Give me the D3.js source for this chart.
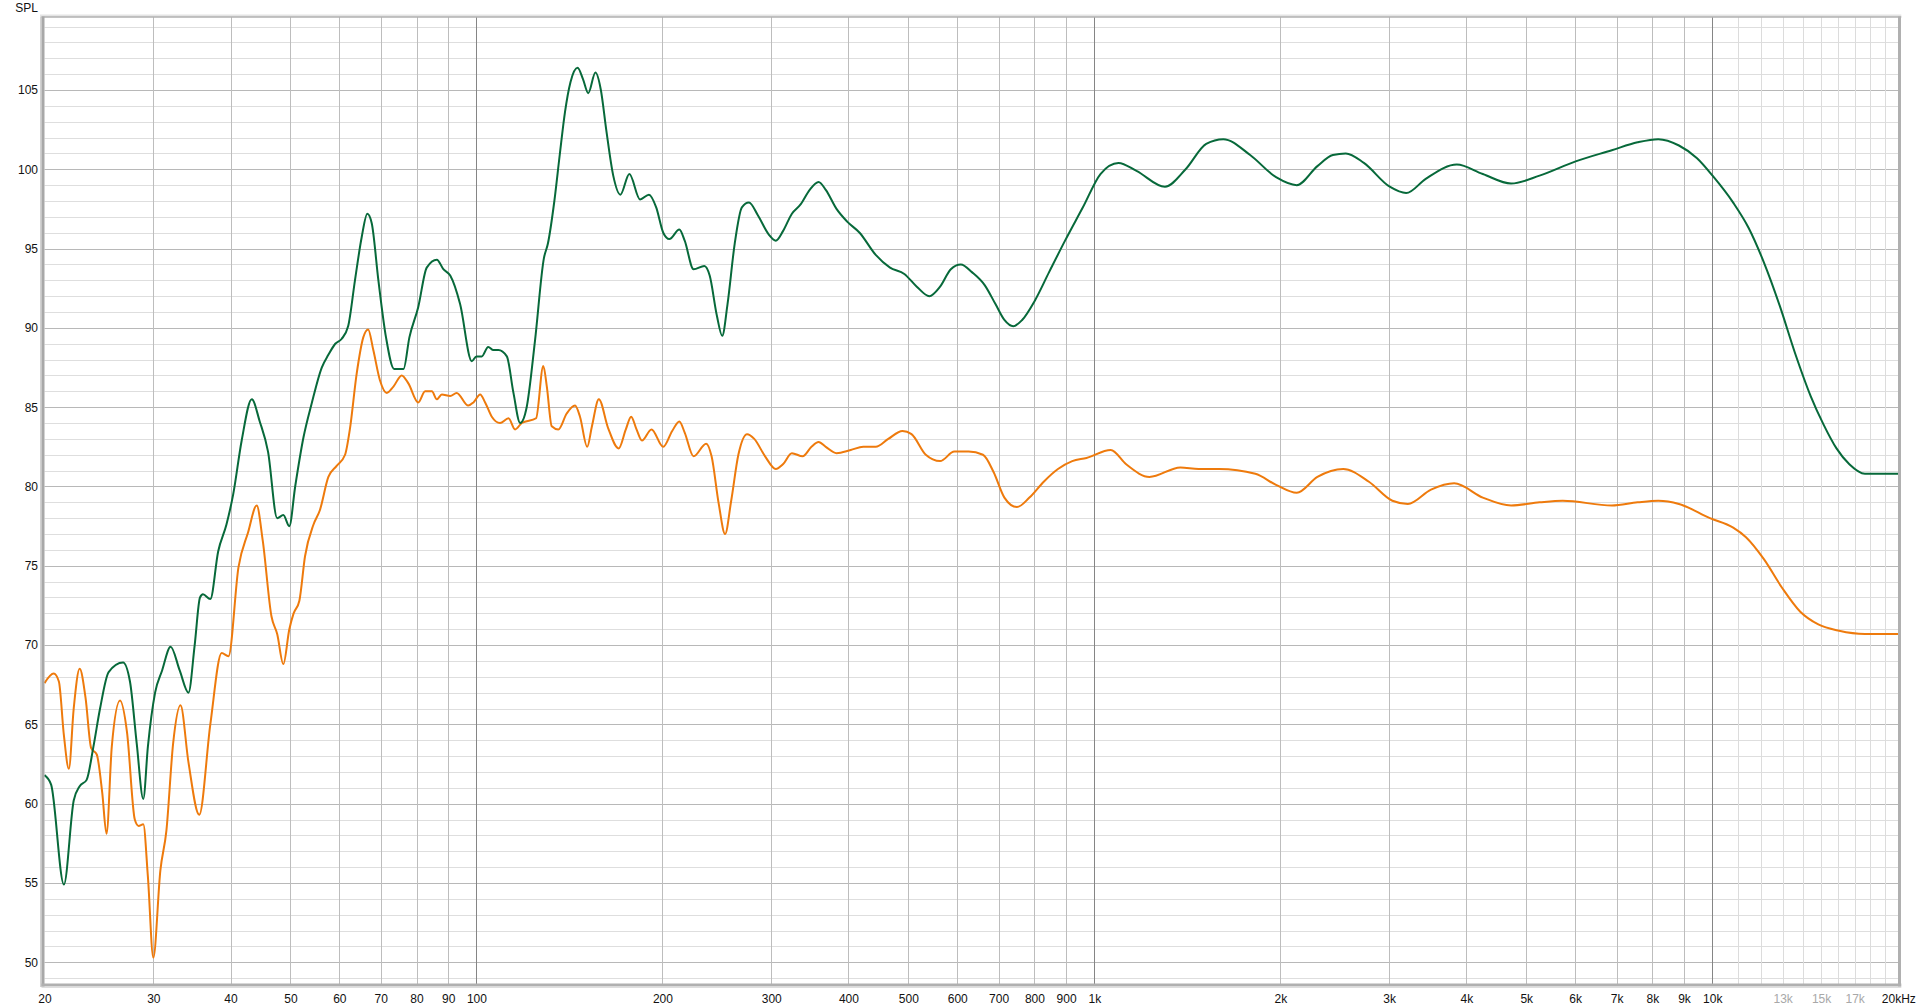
<!DOCTYPE html>
<html><head><meta charset="utf-8">
<script src="https://cdn.jsdelivr.net/npm/d3@7"></script>
<style>
html,body{margin:0;padding:0;background:#fff;}
svg{display:block;}
text{font-family:"Liberation Sans",Arial,sans-serif;font-size:12px;}
</style></head>
<body>
<svg id="chart" width="1920" height="1008"></svg>
<script>
// ---------- DATA ----------
const yTicks = [50,55,60,65,70,75,80,85,90,95,100,105];
const xTickValues = [20,30,40,50,60,70,80,90,100,200,300,400,500,600,700,800,900,1000,2000,3000,4000,5000,6000,7000,8000,9000,10000,13000,15000,17000,20000];
const xTickLabels = ["20","30","40","50","60","70","80","90","100","200","300","400","500","600","700","800","900","1k","2k","3k","4k","5k","6k","7k","8k","9k","10k","13k","15k","17k","20kHz"];
const fadedLabels = ["13k","15k","17k"];
const decadeLines = [100,1000,10000];
const minorLines = [30,40,50,60,70,80,90,200,300,400,500,600,700,800,900,2000,3000,4000,5000,6000,7000,8000,9000];
const highLines = [11000,12000,13000,14000,15000,16000,17000,18000,19000];

// green series: [frequency Hz, SPL dB]
const greenSeries = [
[20,61.8],[20.5,61.2],[21.5,54.9],[22.3,60.2],[22.8,61.1],[23.4,61.5],[24.0,63.6],[24.6,66.0],[25.4,68.3],[26.8,68.9],[27.5,67.7],[28.2,63.8],[28.9,60.3],[29.4,63.6],[30.2,67.0],[31.0,68.4],[32.0,69.9],[33.1,68.4],[34.2,67.0],[35.0,70.0],[35.7,73.0],[36.1,73.2],[37.1,72.9],[38.2,75.9],[39.4,77.6],[40.4,79.5],[41.7,82.9],[43.3,85.5],[44.6,84.1],[46.0,82.2],[47.6,78.0],
[48.7,78.2],[49.8,77.5],[50.9,80.0],[52.5,83.1],[54.1,85.2],[56.2,87.5],[57.6,88.3],[59.1,89.0],[60.5,89.3],[62.0,90.1],[63.6,93.0],[65.2,95.7],[66.6,97.2],[67.7,96.6],[69.4,93.0],[71.4,89.4],[73.6,87.4],[76.2,87.4],[77.9,89.4],[80.5,91.3],[83.1,93.8],[86.3,94.3],[88.4,93.7],[90.7,93.3],[94.1,91.5],[98.3,87.9],[100,88.2],[102.0,88.2],[104.5,88.8],[106.5,88.6],[108.5,88.6],[112.0,88.2],[114.8,85.9],[117.7,84.0],[120.6,85.0],[124.4,89.2],[128.6,94.4],[130.5,95.3],
[133.7,98.0],[136.4,100.9],[139.1,103.6],[142.0,105.5],[145.8,106.4],[148.7,105.7],[151.7,104.8],[155.8,106.1],[159.0,105.0],[162.2,102.5],[166.5,99.6],[171.0,98.4],[176.8,99.7],[184.0,98.1],[190.2,98.4],[195.4,97.6],[200.6,96.0],[205.2,95.6],[213.0,96.2],[217.3,95.5],[224.6,93.7],[233.8,93.9],[238.5,93.3],[244.9,90.8],[249.9,89.5],[254.9,91.5],[261.8,95.3],[268.9,97.6],[276.1,97.9],[285.4,97.1],[297.1,95.9],[305.1,95.5],[313.4,96.1],[324.0,97.2],[334.9,97.8],[346.2,98.7],[357.9,99.2],[367.6,98.7],[382.6,97.5],[398.1,96.7],[417.0,96.0],[442.8,94.6],[467.0,93.8],[492.6,93.4],[516.0,92.6],[540.6,92.0],[562.8,92.6],[585.8,93.7],[608.0,94.0],[634.4,93.5],[664.5,92.7],[691.8,91.5],[715.2,90.5],[739.3,90.1],[764.1,90.5],[800.6,91.7],[844.4,93.5],[896.6,95.5],[958.2,97.6],
[1023,99.7],[1094,100.4],[1170,99.9],[1301,98.9],[1405,100.0],[1517,101.6],[1617,101.9],[1787,100.9],[1968,99.5],[2126,99.0],[2296,100.2],[2432,100.9],[2552,101.0],[2730,100.4],[3006,98.9],[3196,98.5],[3438,99.4],[3860,100.3],[4252,99.7],[4726,99.1],[5254,99.6],[6010,100.5],[6878,101.2],[7570,101.7],[8178,101.9],[8832,101.5],[9448,100.7],[10010,99.6],[10810,97.9],[11452,96.3],[12128,94.1],[12856,91.4],[13614,88.4],[14428,85.7],[15140,83.9],[15886,82.4],[16666,81.4],[17660,80.8],[20000,80.8]
];

// orange series: [frequency Hz, SPL dB]
const orangeSeries = [
[20,67.6],[20.7,68.2],[21.1,67.7],[21.5,64.3],[21.9,62.2],[22.3,66.0],[22.8,68.5],[23.3,66.7],[23.8,63.5],[24.3,63.1],[24.8,60.7],[25.2,58.1],[25.7,63.6],[26.5,66.5],[27.2,64.5],[28.0,59.0],[28.4,58.6],[28.9,58.7],[29.4,55.4],[30.0,50.3],[30.8,55.8],[31.5,58.3],[32.3,63.8],[33.2,66.2],[34.2,62.6],[35.6,59.3],[37.1,65.0],[38.7,69.5],[39.7,69.3],[41.2,74.9],[42.7,77.1],[44.1,78.8],[45.1,76.6],[46.6,71.8],[47.6,70.7],[48.7,68.8],
[49.8,71.0],[50.6,72.0],[51.7,72.8],[52.8,75.6],[54.5,77.6],[55.8,78.5],[57.6,80.6],[59.4,81.3],[61.3,82.0],[62.4,83.6],[64.0,87.1],[65.6,89.4],[66.8,89.9],[68.1,88.6],[69.8,86.7],[71.6,85.9],[73.4,86.3],[75.7,87.0],[77.6,86.5],[80.5,85.3],[82.6,86.0],[84.7,86.0],[86.3,85.5],[87.9,85.8],[90.7,85.7],[92.9,85.9],[97.0,85.1],[98.9,85.3],[101.4,85.8],[103.3,85.3],[105.9,84.4],[109.2,84.0],[112.7,84.3],[115.5,83.6],[118.4,84.0],[124.9,84.3],[128.3,87.6],[130.0,86.3],[132.4,83.8],[135.7,83.6],[140.0,84.6],[144.4,85.1],[147.1,84.4],
[151.1,82.5],[153.8,83.8],[157.8,85.5],[163.3,83.7],[169.9,82.4],[174.5,83.6],[178.0,84.4],[181.6,83.6],[185.3,82.9],[192.0,83.6],[200.6,82.5],[207.4,83.5],[213.0,84.1],[217.3,83.4],[224.6,81.9],[235.4,82.7],[240.2,81.9],[246.7,78.9],[252.6,77.0],[258.4,79.1],[265.4,82.0],[274.2,83.3],[281.6,83.0],[293.2,81.9],[305.1,81.1],[313.4,81.4],[324.0,82.1],[337.2,81.9],[348.5,82.5],[357.9,82.8],[367.6,82.5],[382.6,82.1],[403.4,82.3],[422.7,82.5],[442.8,82.5],[464.0,83.0],[489.2,83.5],[506.0,83.3],[533.6,82.0],[562.8,81.6],[593.6,82.2],[625.9,82.2],[660.3,82.0],[687.2,80.9],[715.2,79.3],[749.4,78.7],[785.1,79.3],[828.1,80.3],[873.2,81.1],[920.8,81.6],[971.2,81.8],
[1063,82.3],[1126,81.4],[1228,80.6],[1378,81.2],[1475,81.1],[1592,81.1],[1822,80.8],[1968,80.1],[2126,79.6],[2296,80.6],[2528,81.1],[2782,80.3],[3036,79.1],[3216,78.9],[3506,79.8],[3822,80.2],[4252,79.3],[4726,78.8],[5254,79.0],[5728,79.1],[6878,78.8],[7570,79.0],[8178,79.1],[8832,78.9],[9912,78.0],[10810,77.4],[11338,76.8],[12128,75.4],[12976,73.6],[13880,72.1],[14846,71.3],[16042,70.9],[17660,70.7],[20000,70.7]
];

// ---------- LAYOUT ----------
const L = 44.5, R = 1898.3, T = 17.5, B = 984;
const svg = d3.select("#chart");
const x = d3.scaleLog().domain([20,20000]).range([L,R]);
const y = d3.scaleLinear().domain([48.63,109.57]).range([B,T]);
const px = v => Math.round(v) + 0.5;

// background
svg.append("rect").attr("x",L).attr("y",T).attr("width",R-L).attr("height",B-T).attr("fill","#fff");

// horizontal grid
const hLines = d3.range(49,110);
svg.append("g").selectAll("line").data(hLines).join("line")
  .attr("x1",L).attr("x2",R)
  .attr("y1",d=>px(y(d))).attr("y2",d=>px(y(d)))
  .attr("stroke",d=>d%5===0?"#b8b8b8":"#dedede").attr("stroke-width",1);

// vertical grid
const vg = svg.append("g");
vg.selectAll("line.hi").data(highLines).join("line").attr("class","hi")
  .attr("x1",d=>px(x(d))).attr("x2",d=>px(x(d))).attr("y1",T).attr("y2",B)
  .attr("stroke","#dcdcdc");
vg.selectAll("line.mi").data(minorLines).join("line").attr("class","mi")
  .attr("x1",d=>px(x(d))).attr("x2",d=>px(x(d))).attr("y1",T).attr("y2",B)
  .attr("stroke","#bdbdbd");
vg.selectAll("line.de").data(decadeLines).join("line").attr("class","de")
  .attr("x1",d=>px(x(d))).attr("x2",d=>px(x(d))).attr("y1",T).attr("y2",B)
  .attr("stroke","#858585");

// curves
const line = d3.line().x(d=>x(d[0])).y(d=>y(d[1])).curve(d3.curveMonotoneX);
const plot = svg.append("g");
plot.append("path").datum(orangeSeries).attr("d",line)
  .attr("fill","none").attr("stroke","#ee7a0c").attr("stroke-width",2).attr("stroke-linejoin","round");
plot.append("path").datum(greenSeries).attr("d",line)
  .attr("fill","none").attr("stroke","#07693a").attr("stroke-width",2).attr("stroke-linejoin","round");

// frame
const fr = svg.append("g");
fr.append("rect").attr("x",L-4.5).attr("y",T-3).attr("width",R-L+7.5).attr("height",2).attr("fill","#e4e4e4");
fr.append("line").attr("x1",L-3).attr("x2",R+3).attr("y1",T-0.5).attr("y2",T-0.5).attr("stroke","#8a8a8a");
fr.append("rect").attr("x",L-4.5).attr("y",T-1).attr("width",1.5).attr("height",B-T+4).attr("fill","#d2d2d2");
fr.append("rect").attr("x",L-3).attr("y",T-1).attr("width",3).attr("height",B-T+4).attr("fill","#a8a8a8");
fr.append("rect").attr("x",R-0.3).attr("y",T-1).attr("width",3).attr("height",B-T+4).attr("fill","#b0b0b0");
fr.append("rect").attr("x",L-3).attr("y",B-0.5).attr("width",R-L+6).attr("height",3).attr("fill","#b0b0b0");
fr.append("rect").attr("x",L-3).attr("y",B+2.5).attr("width",R-L+6).attr("height",1.5).attr("fill","#dedede");

// axes
const labelOf = d3.scaleOrdinal().domain(xTickValues).range(xTickLabels);
const xAxis = d3.axisBottom(x).tickValues(xTickValues).tickFormat(d=>labelOf(d)).tickSize(0).tickPadding(10);
const gx = svg.append("g").attr("transform",`translate(0,${B})`).call(xAxis);
gx.select(".domain").remove();
gx.selectAll("text").attr("font-family","'Liberation Sans',Arial,sans-serif").attr("font-size",12)
  .attr("fill",d=>fadedLabels.includes(labelOf(d))?"#a8a8a8":"#111");

const yAxis = d3.axisLeft(y).tickValues(yTicks).tickFormat(d3.format("d")).tickSize(0).tickPadding(6.5);
const gy = svg.append("g").attr("transform",`translate(${L},0)`).call(yAxis);
gy.select(".domain").remove();
gy.selectAll("text").attr("font-family","'Liberation Sans',Arial,sans-serif").attr("font-size",12).attr("fill","#111");

svg.append("text").attr("x",38).attr("y",12).attr("text-anchor","end").attr("fill","#111").text("SPL");
</script>
</body></html>
